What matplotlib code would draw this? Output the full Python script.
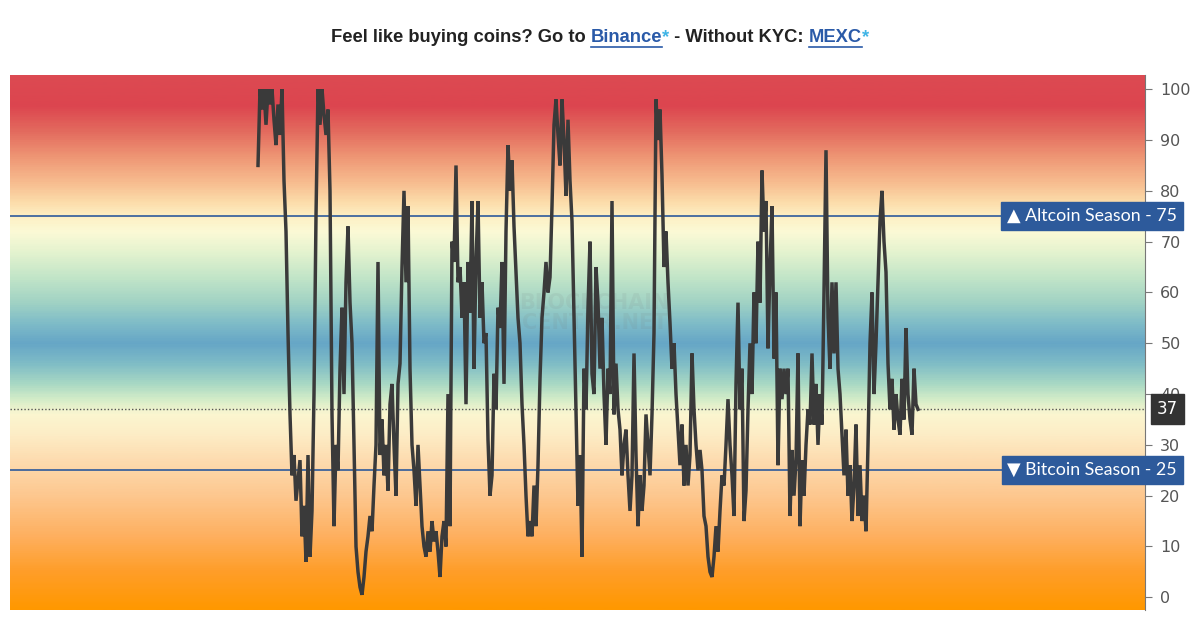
import numpy as np
import matplotlib
matplotlib.use("Agg")
import matplotlib.pyplot as plt
import matplotlib.transforms as mtransforms
from matplotlib.colors import LinearSegmentedColormap

# Altcoin season index (one value every ~2 px)
index_values = [
    85, 100, 96, 100, 93, 100, 97, 100, 94, 89, 97, 91, 100,
    82, 72, 52, 36, 24, 28, 19, 23, 27, 12, 18, 7, 28, 8, 17,
    40, 75, 100, 93, 100, 95, 91, 96, 80, 36,
    14, 30, 25, 45, 57, 40, 62, 73, 58, 50, 30, 10, 5, 2, 0.5,
    4, 9, 12, 16, 13, 22, 30, 66, 28, 35, 24, 30, 21, 38, 42, 30, 20, 42, 46,
    65, 80, 62, 77, 45, 30, 25, 18, 30, 22,
    14, 10, 8, 13, 9, 15, 11, 13, 9, 4, 12, 15, 10,
    40, 14, 70, 66, 85, 62, 65, 55, 62, 38, 66, 56, 78, 45, 66, 78, 55,
    62, 50, 52, 31, 20, 24, 44, 37, 57, 53,
    66, 42, 72, 89, 80, 86, 73, 64, 55, 50, 38, 30, 20, 12, 15,
    12, 22, 14, 26, 43, 55, 60, 66, 60, 63, 77, 93, 98, 91, 85,
    98, 90, 79, 94, 82, 74, 55, 37, 18, 28, 8, 45, 37, 57, 70,
    44, 40, 65, 58, 45, 55, 40, 30, 45, 40, 78, 36, 46, 37, 33,
    24, 30, 33, 24, 17, 24, 48, 28, 14, 24, 17, 22, 36, 30, 24, 36, 52,
    98, 90, 96, 83, 65, 72, 62, 54, 45, 50, 40, 33, 26, 34, 22, 30, 22, 28,
    48, 37, 30, 25, 29, 25, 16, 14, 8, 5, 4, 8, 14, 9, 17, 24, 22, 30,
    39, 30, 24, 16, 42, 58, 37, 45, 15, 21, 37, 50, 40, 60, 50, 70, 58, 84,
    72, 78, 49, 65, 77, 47, 60, 26, 45, 39, 45, 40, 45, 16, 29, 20, 27, 48, 14,
    27, 20, 30, 37, 34, 48, 34, 42, 30, 40, 34, 60, 88,
    55, 45, 62, 48, 62, 45, 40, 32, 24, 33, 20, 26, 15, 22, 34, 16, 26, 15, 20, 13,
    30, 50, 60, 40, 50, 62, 74, 80, 70, 64, 46, 37, 43, 33, 40, 35, 32,
    43, 35, 53, 40, 35, 32, 45, 38, 37,
]
current_value = 37
altcoin_level = 75
bitcoin_level = 25
y_ticks = [0, 10, 20, 30, 40, 50, 60, 70, 80, 90, 100]

# background gradient stops (index value, colour)
grad_stops = [
    (-2.5, "#ff9800"), (5, "#ff9e2a"), (12, "#feb060"), (20, "#fdc890"),
    (27, "#fddcb0"), (32, "#fdedc6"), (36, "#fbf6d0"), (39, "#d2ecc8"),
    (42, "#a8d8c4"), (46, "#7fbcc6"), (50, "#66a6c6"), (54, "#7fbcc8"),
    (58, "#a0d2c4"), (63, "#c2e5c8"), (68, "#e4f3cf"), (72, "#fbfad6"),
    (75, "#fdf0c4"), (78, "#fcdcaa"), (82, "#f7bb8e"), (87, "#ee9574"),
    (92, "#e36a5e"), (97, "#dc454f"), (102.8, "#dc4a52"),
]

y_lo, y_hi = -2.5, 102.8
x_lo, x_hi = -124, 443.5

fig = plt.figure(figsize=(12, 6.2), dpi=100)
fig.patch.set_facecolor("white")
ax = fig.add_axes([10 / 1200, 10 / 620, 1135 / 1200, 535 / 620])

cmap = LinearSegmentedColormap.from_list(
    "season", [((v - y_lo) / (y_hi - y_lo), c) for v, c in grad_stops])
ax.imshow(np.linspace(y_lo, y_hi, 600)[:, None], extent=[x_lo, x_hi, y_lo, y_hi],
          origin="lower", aspect="auto", cmap=cmap, vmin=y_lo, vmax=y_hi, zorder=0)

# watermark
ax.text(0.515, 0.555, "BLOCKCHAIN\nCENTER.NET", transform=ax.transAxes, ha="center",
        va="center", fontsize=15, fontweight="bold", color="#777777", alpha=0.10,
        linespacing=1.0, zorder=1)

ax.axhline(altcoin_level, color="#2d5a9b", lw=1.2, zorder=2)
ax.axhline(bitcoin_level, color="#2d5a9b", lw=1.2, zorder=2)
ax.axhline(current_value, color="#555555", lw=1, ls=(0, (1, 1.5)), zorder=2)

ax.plot(np.arange(len(index_values)), index_values, color="#3a3a3a", lw=2.5,
        solid_joinstyle="miter", zorder=3)

ax.set_xlim(x_lo, x_hi)
ax.set_ylim(y_lo, y_hi)
ax.set_xticks([])
ax.yaxis.tick_right()
ax.set_yticks(y_ticks)
ax.tick_params(axis="y", direction="out", length=5, color="#777777", labelcolor="#555555",
               labelsize=11.5, pad=6)
for lbl in ax.get_yticklabels():
    lbl.set_family("DejaVu Sans")
for side in ["left", "top", "bottom"]:
    ax.spines[side].set_visible(False)
ax.spines["right"].set_color("#777777")

# season labels on the right
trans = mtransforms.blended_transform_factory(fig.transFigure, ax.transData)
for txt, lvl in [("\u25B2 Altcoin Season - 75", altcoin_level),
                 ("\u25BC Bitcoin Season - 25", bitcoin_level)]:
    fig.text(1177 / 1200, lvl, txt, transform=trans, ha="right", va="center",
             fontsize=12.8, color="white", family=["Lato", "DejaVu Sans"],
             bbox=dict(boxstyle="square,pad=0.33", fc="#2d5a9b", ec="#2d5a9b"))
fig.text(1178 / 1200, current_value, f"{current_value}", transform=trans, ha="right",
         va="center", fontsize=12, color="white", family="DejaVu Sans",
         bbox=dict(boxstyle="square,pad=0.35", fc="#333333", ec="#333333"))

# title in coloured pieces, links underlined
title_parts = [
    ("Feel like buying coins? Go to ", "#222222", False),
    ("Binance", "#2a5aa8", True),
    ("*", "#3fb4e6", False),
    (" - Without KYC: ", "#222222", False),
    ("MEXC", "#2a5aa8", True),
    ("*", "#3fb4e6", False),
]
fig.canvas.draw()
renderer = fig.canvas.get_renderer()
title_y = 1 - 38 / 620
texts = []
for s, c, u in title_parts:
    t = fig.text(0, title_y, s, fontsize=13.2, fontweight="bold", color=c,
                 family="Liberation Sans", va="center", ha="left")
    texts.append(t)
widths = [t.get_window_extent(renderer).width / 1200 for t in texts]
x0 = 0.5 - sum(widths) / 2
for t, w, (s, c, u) in zip(texts, widths, title_parts):
    t.set_x(x0)
    if u:
        fig.add_artist(plt.Line2D([x0, x0 + w], [title_y - 8.5 / 620] * 2, color=c, lw=1.2,
                                  transform=fig.transFigure))
    x0 += w

fig.savefig("out.png", dpi=100)
